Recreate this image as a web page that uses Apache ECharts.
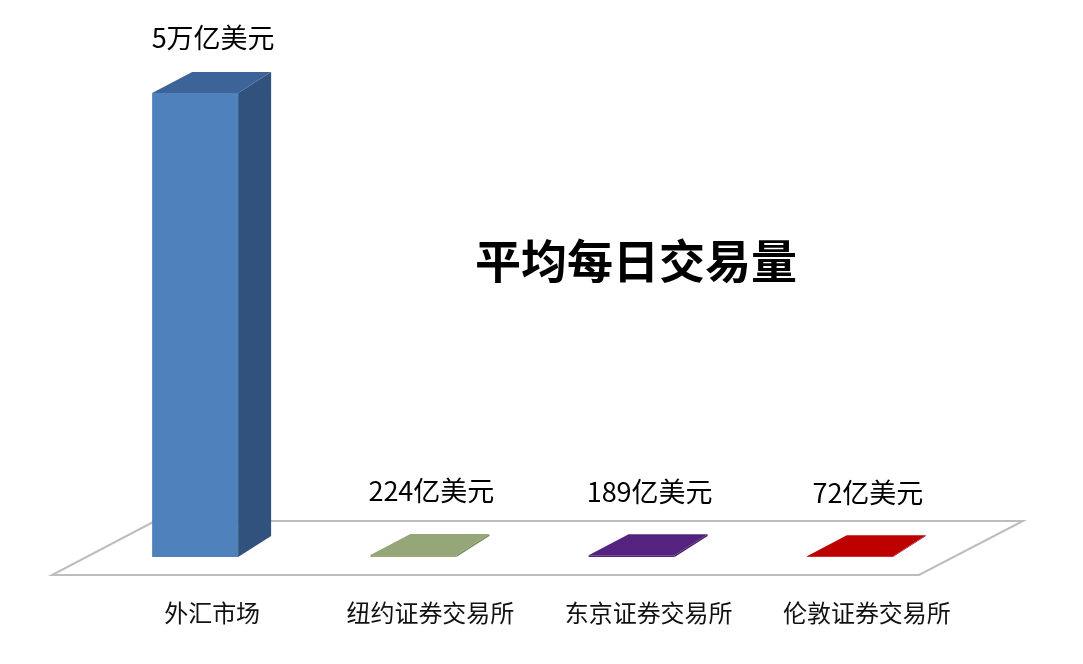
<!DOCTYPE html>
<html>
<head>
<meta charset="utf-8">
<script src="https://cdn.jsdelivr.net/npm/echarts@6/dist/echarts.min.js"></script>
<style>
html,body{margin:0;padding:0;background:#fff;}
#main{width:1083px;height:664px;}
</style>
</head>
<body>
<div id="main"></div>
<script>
// ---- data ----
const categories = ['外汇市场', '纽约证券交易所', '东京证券交易所', '伦敦证券交易所'];
const values = [50000, 224, 189, 72]; // 亿美元
const valueLabels = ['5万亿美元', '224亿美元', '189亿美元', '72亿美元'];
const chartTitle = '平均每日交易量';

// ---- styles ----
const frontColors = ['#4F81BD', '#9AAA7B', '#56287F', '#C00000'];
const topColors   = ['#3D6499', '#95A678', '#54237F', '#BD0000'];
const sideColors  = ['#30527C', '#7E8C62', '#431C66', '#990000'];
const DXL = 40, DXR = 33, DY = -21;
const FONT = '"Noto Sans CJK SC", "Noto Sans", sans-serif';

const chart = echarts.init(document.getElementById('main'));

const option = {
  backgroundColor: '#fff',
  animation: false,
  title: {
    text: chartTitle,
    left: 631, top: 233, textAlign: 'center',
    textStyle: { fontFamily: FONT, fontSize: 46, fontWeight: 'bold', color: '#000' }
  },
  grid: { left: 86, right: 124, top: 93, bottom: 107 },
  xAxis: {
    type: 'category',
    data: categories,
    axisLine: { show: false },
    axisTick: { show: false },
    axisLabel: {
      margin: 44, fontSize: 24, color: '#111', fontFamily: FONT,
      padding: [0, 0, 0, 34], interval: 0
    }
  },
  yAxis: {
    type: 'value', min: 0, max: 50000,
    show: false, splitLine: { show: false }
  },
  series: [
    {
      type: 'custom',
      z: 1,
      data: [[0, 0]],
      renderItem: function (params, api) {
        const cs = params.coordSys;
        const y0 = api.coord([0, 0])[1];
        const L = cs.x, R = cs.x + cs.width;
        return {
          type: 'polygon',
          shape: { points: [
            [L - 34, y0 + 18], [R - 40, y0 + 18],
            [R + 64, y0 - 36], [L + 69, y0 - 36]
          ] },
          style: { fill: '#fff', stroke: '#BDBDBD', lineWidth: 2 }
        };
      }
    },
    {
      type: 'custom',
      z: 2,
      data: values.map((v, i) => [i, v]),
      renderItem: function (params, api) {
        const i = params.dataIndex;
        const cs = params.coordSys;
        const p = api.coord([api.value(0), api.value(1)]);
        const b = api.coord([api.value(0), 0]);
        const w = api.size([1, 0])[0] * 0.394;
        const x0 = p[0] - w / 2, x1 = p[0] + w / 2;
        const yT = p[1], yB = b[1];
        const labelOff = -43 + 9 * ((yB - yT) / cs.height);
        return {
          type: 'group',
          children: [
            { type: 'rect', shape: { x: x0, y: yT, width: w, height: yB - yT },
              style: { fill: frontColors[i] } },
            { type: 'polygon', shape: { points: [[x1, yT], [x1 + DXR, yT + DY], [x1 + DXR, yB + DY], [x1, yB]] },
              style: { fill: sideColors[i] } },
            { type: 'polygon', shape: { points: [[x0, yT], [x0 + DXL, yT + DY], [x1 + DXR, yT + DY], [x1, yT]] },
              style: { fill: topColors[i] } },
            { type: 'text', style: {
                text: valueLabels[i], x: p[0] + 18, y: yT + DY + labelOff,
                align: 'center', verticalAlign: 'middle',
                fontFamily: FONT, fontSize: 27, fill: '#000'
              } }
          ]
        };
      }
    }
  ]
};
chart.setOption(option);
</script>
</body>
</html>
